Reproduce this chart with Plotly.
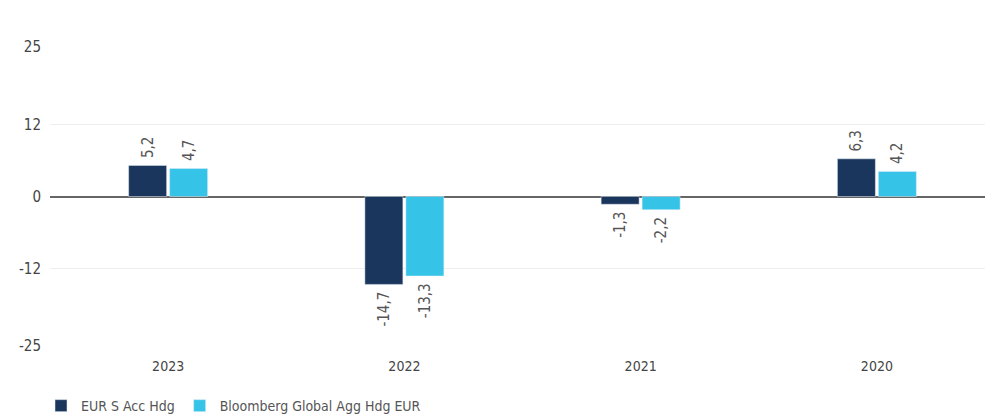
import plotly.graph_objects as go

years = ["2023", "2022", "2021", "2020"]
fund_name = "EUR S Acc Hdg"
fund_values = [5.2, -14.7, -1.3, 6.3]
bench_name = "Bloomberg Global Agg Hdg EUR"
bench_values = [4.7, -13.3, -2.2, 4.2]
y_ticks = [-25, -12, 0, 12, 25]

FONT = "DejaVu Sans Condensed, Liberation Sans Narrow, Roboto, sans-serif"
PAD = "\u00a0"

def f(size, color):
    return dict(family=FONT, size=size, color=color)

def templates(values):
    # pad the end of each label that faces the bar
    return [PAD + "%{y:.1f}" if v >= 0 else "%{y:.1f}" + PAD for v in values]

fig = go.Figure()
fig.add_trace(go.Bar(
    x=years, y=fund_values, name=fund_name, marker_color="#1b365d",
    texttemplate=templates(fund_values), textposition="outside", textangle=-90,
    constraintext="none",
    textfont=f(15, "#555555"), cliponaxis=False,
))
fig.add_trace(go.Bar(
    x=years, y=bench_values, name=bench_name, marker_color="#35c4e8",
    texttemplate=templates(bench_values), textposition="outside", textangle=-90,
    constraintext="none",
    textfont=f(15, "#555555"), cliponaxis=False,
))

fig.update_layout(
    width=993, height=419,
    margin=dict(l=42, r=6, t=39, b=81),
    paper_bgcolor="white", plot_bgcolor="white",
    separators=",.",
    barmode="group", bargap=0.653, bargroupgap=0.073,
    font=f(14, "#444444"),
    showlegend=True,
    legend=dict(orientation="h", x=-0.0095, xanchor="left", yref="container", y=0.05, yanchor="middle",
                font=f(14, "#555555"),
                itemclick=False, traceorder="normal"),
    xaxis=dict(showgrid=False, showline=False, ticks="", ticklabelstandoff=10,
               tickfont=f(14, "#444444")),
    yaxis=dict(range=[-25, 25], tickvals=y_ticks, ticktext=[str(v) for v in y_ticks],
               showgrid=True, gridcolor="#eeeeee", gridwidth=1,
               zeroline=True, zerolinecolor="#666666", zerolinewidth=1.5,
               ticks="", ticklabelstandoff=8, tickfont=f(15, "#444444")),
)

fig.write_html("out.html")
